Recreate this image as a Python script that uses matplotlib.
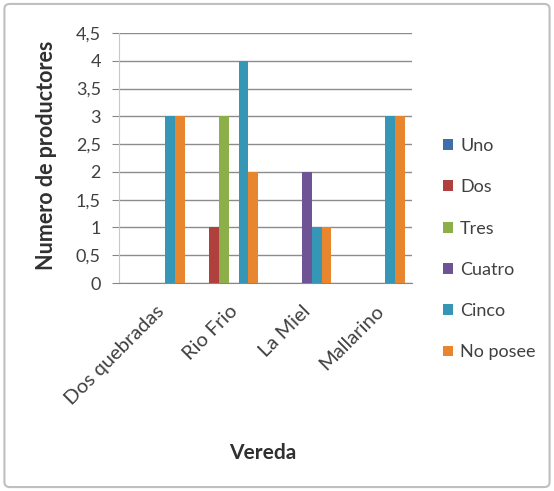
import numpy as np
import matplotlib
matplotlib.use('Agg')
import matplotlib.pyplot as plt
from matplotlib.patches import FancyBboxPatch

plt.rcParams['font.family'] = ['Lato', 'DejaVu Sans']

#Chart data
veredas = ['Dos quebradas', 'Rio Frio', 'La Miel', 'Mallarino']
series = ['Uno', 'Dos', 'Tres', 'Cuatro', 'Cinco', 'No posee']
uno = [0, 0, 0, 0]
dos = [0, 1, 0, 0]
tres = [0, 3, 0, 0]
cuatro = [0, 0, 2, 0]
cinco = [3, 4, 1, 3]
no_posee = [3, 2, 1, 3]
yticks = [0, 0.5, 1, 1.5, 2, 2.5, 3, 3.5, 4, 4.5]
ytick_labels = ['0', '0,5', '1', '1,5', '2', '2,5', '3', '3,5', '4', '4,5']

values = [uno, dos, tres, cuatro, cinco, no_posee]
colors = ['#3F6FAA', '#B0403D', '#8DAF4A', '#6E5395', '#3597B5', '#E8862F']

W, H = 554, 491
fig = plt.figure(figsize=(W/100, H/100), dpi=100)
#outer chart border
fig.patches.append(FancyBboxPatch((0.008, 0.008), 0.984, 0.984,
                                  boxstyle='round,pad=0,rounding_size=0.01',
                                  transform=fig.transFigure, fill=False,
                                  edgecolor='#BFBFBF', linewidth=1.5))

ax = fig.add_axes([119/W, 1-283/H, (412-119)/W, (283-33)/H])
x = np.arange(len(veredas))
w = 1/7.5
for i, vals in enumerate(values):
    ax.bar(x - 2.5*w + i*w, vals, w, color=colors[i], label=series[i],
           zorder=3)

ax.set_xlim(-0.5, len(veredas)-0.5)
ax.set_ylim(0, 4.5)
ax.set_yticks(yticks)
ax.set_yticklabels(ytick_labels, fontsize=13, color='#404040')
ax.set_xticks(x)
ax.set_xticklabels(veredas, rotation=45, ha='right', rotation_mode='anchor',
                   fontsize=14.5, color='#404040')
ax.tick_params(axis='x', length=0, pad=14)
ax.tick_params(axis='y', length=5, color='#868686', pad=8)
ax.yaxis.grid(True, color='#8C8C8C', linewidth=1)
ax.set_axisbelow(True)
for s in ['top', 'right']:
    ax.spines[s].set_visible(False)
ax.spines['left'].set_color('#C8C8C8')
ax.spines['bottom'].set_color('#868686')

fig.text(47/W, 1-155/H, 'Numero de productores', fontsize=15.5,
         fontweight='bold', color='#303030', rotation=90,
         ha='center', va='center')
fig.text(263/W, 1-453/H, 'Vereda', fontsize=15, fontweight='bold',
         color='#303030', ha='center', va='center')

leg = fig.legend(loc='upper left', bbox_to_anchor=(443/W, 1-138/H),
                 frameon=False, borderpad=0, borderaxespad=0,
                 fontsize=13, handlelength=0.55, handleheight=0.55,
                 handletextpad=0.4, labelspacing=1.4)
for t in leg.get_texts():
    t.set_color('#404040')

fig.savefig('out.png', dpi=100)
